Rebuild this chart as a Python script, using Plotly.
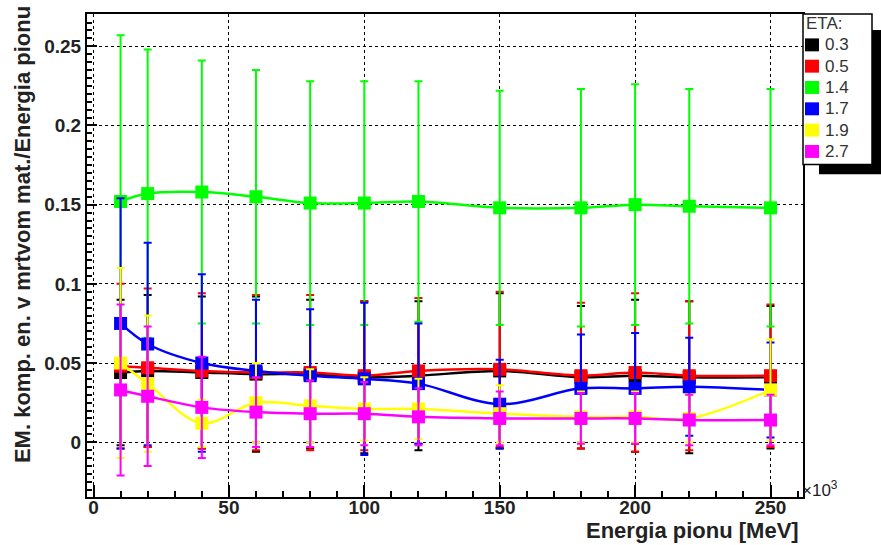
import plotly.graph_objects as go

# ---- data ----
energy = [10, 20, 40, 60, 80, 100, 120, 150, 180, 200, 220, 250]

eta_labels = ["0.3", "0.5", "1.4", "1.7", "1.9", "2.7"]
colors = ["#000000", "#ff0000", "#00ff00", "#0000ff", "#ffff00", "#ff00ff"]

val_03 = [0.044, 0.045, 0.044, 0.043, 0.043, 0.041, 0.042, 0.045, 0.041, 0.042, 0.041, 0.041]
err_03 = [0.046, 0.048, 0.048, 0.049, 0.047, 0.048, 0.047, 0.049, 0.045, 0.048, 0.048, 0.045]

val_05 = [0.048, 0.047, 0.045, 0.044, 0.044, 0.042, 0.045, 0.046, 0.042, 0.044, 0.042, 0.042]
err_05 = [0.052, 0.050, 0.049, 0.049, 0.049, 0.047, 0.046, 0.049, 0.046, 0.050, 0.047, 0.045]

val_14 = [0.152, 0.157, 0.158, 0.155, 0.151, 0.151, 0.152, 0.148, 0.148, 0.150, 0.149, 0.148]
err_14 = [0.105, 0.091, 0.083, 0.080, 0.077, 0.077, 0.076, 0.074, 0.075, 0.076, 0.074, 0.075]

val_17 = [0.075, 0.062, 0.050, 0.045, 0.042, 0.040, 0.037, 0.024, 0.034, 0.034, 0.035, 0.033]
err_17 = [0.079, 0.064, 0.056, 0.045, 0.042, 0.048, 0.038, 0.028, 0.034, 0.035, 0.031, 0.030]

val_19 = [0.050, 0.037, 0.012, 0.025, 0.023, 0.021, 0.021, 0.018, 0.016, 0.016, 0.015, 0.033]
err_19 = [0.060, 0.043, 0.015, 0.025, 0.023, 0.020, 0.019, 0.018, 0.016, 0.016, 0.015, 0.032]

val_27 = [0.033, 0.029, 0.022, 0.019, 0.018, 0.018, 0.016, 0.015, 0.015, 0.015, 0.014, 0.014]
err_27 = [0.054, 0.044, 0.032, 0.022, 0.021, 0.020, 0.018, 0.017, 0.016, 0.016, 0.016, 0.016]

values = [val_03, val_05, val_14, val_17, val_19, val_27]
errors = [err_03, err_05, err_14, err_17, err_19, err_27]

x_tickvals = [0, 50, 100, 150, 200, 250]
x_ticktext = ["0", "50", "100", "150", "200", "250"]
y_tickvals = [0, 0.05, 0.1, 0.15, 0.2, 0.25]
y_ticktext = ["0", "0.05", "0.1", "0.15", "0.2", "0.25"]

x_title = "Energia pionu [MeV]"
y_title = "EM. komp. en. v mrtvom mat./Energia pionu"
legend_title = "ETA:"

# ---- layout geometry (pixels) ----
W, H = 881, 545
L, R, T, B = 87, 803, 12, 497
FONT = "Liberation Sans"


def px(xp):
    return (xp - L) / (R - L)


def py(yp):
    return (B - yp) / (B - T)


fig = go.Figure()
for lab, col, v, e in zip(eta_labels, colors, values, errors):
    fig.add_trace(go.Scatter(
        x=energy, y=v, name=lab, mode="lines+markers",
        line=dict(color=col, width=2.5, shape="spline", smoothing=1),
        marker=dict(symbol="square", size=13, color=col, line=dict(width=0)),
        error_y=dict(type="data", array=e, visible=True, color=col,
                     thickness=2, width=4),
        showlegend=False,
    ))

axis_common = dict(
    showline=True, linecolor="black", linewidth=2, mirror=True,
    ticks="inside", tickcolor="black", tickwidth=1.5,
    showgrid=True, gridcolor="black", griddash="dot", gridwidth=1,
    zeroline=False,
    tickfont=dict(family=FONT, size=19, color="#222", weight="bold"),
)

fig.update_xaxes(
    range=[-2.4, 262], tickmode="array",
    tickvals=x_tickvals, ticktext=x_ticktext,
    ticklen=12, ticklabelstandoff=-8,
    minor=dict(dtick=10, tick0=0, ticks="inside", ticklen=6,
               tickcolor="black", showgrid=False),
    **axis_common,
)
fig.update_yaxes(
    range=[-0.0346, 0.2704], tickmode="array",
    tickvals=y_tickvals, ticktext=y_ticktext,
    ticklen=10,
    minor=dict(dtick=0.005, tick0=0, ticks="inside", ticklen=5,
               tickcolor="black", showgrid=False),
    **axis_common,
)

shapes = []
annotations = []

# legend: shadow + box
shapes.append(dict(type="rect", xref="paper", yref="paper",
                   x0=px(819), x1=px(884), y0=py(173), y1=py(28),
                   fillcolor="black", line=dict(width=0), layer="above"))
shapes.append(dict(type="rect", xref="paper", yref="paper",
                   x0=px(803), x1=px(872), y0=py(163), y1=py(12),
                   fillcolor="white", line=dict(color="black", width=1.5),
                   layer="above"))
annotations.append(dict(xref="paper", yref="paper", x=px(804), y=py(22),
                        text=legend_title, showarrow=False, xanchor="left",
                        yanchor="middle",
                        font=dict(family=FONT, size=17, color="#333")))
for i, (lab, col) in enumerate(zip(eta_labels, colors)):
    yc = 43 + i * 21.4
    shapes.append(dict(type="rect", xref="paper", yref="paper",
                       x0=px(805), x1=px(819), y0=py(yc + 6.5), y1=py(yc - 6.5),
                       fillcolor=col, line=dict(width=0), layer="above"))
    annotations.append(dict(xref="paper", yref="paper", x=px(823), y=py(yc),
                            text=lab, showarrow=False, xanchor="left",
                            yanchor="middle",
                            font=dict(family=FONT, size=17, color="#333")))

# axis titles
annotations.append(dict(xref="paper", yref="paper", x=px(801), y=py(531),
                        text=x_title, showarrow=False, xanchor="right",
                        yanchor="middle",
                        font=dict(family=FONT, size=22, color="#222",
                                  weight="bold")))
annotations.append(dict(xref="paper", yref="paper", x=px(22), y=py(234),
                        text=y_title, showarrow=False, textangle=-90,
                        xanchor="center", yanchor="middle",
                        font=dict(family=FONT, size=22, color="#222",
                                  weight="bold")))
# x10^3 exponent
annotations.append(dict(xref="paper", yref="paper", x=px(800), y=py(489),
                        text="×10<sup>3</sup>", showarrow=False,
                        xanchor="left", yanchor="middle",
                        font=dict(family=FONT, size=17, color="#222")))

fig.update_layout(
    width=W, height=H,
    margin=dict(l=L, r=W - R, t=T, b=H - B, pad=0),
    paper_bgcolor="white", plot_bgcolor="white",
    shapes=shapes, annotations=annotations,
    showlegend=False,
)

fig.write_html("out.html",
               config={"displayModeBar": False},
               post_script="document.body.style.margin='0px';"
                           "document.body.style.overflow='hidden';")
